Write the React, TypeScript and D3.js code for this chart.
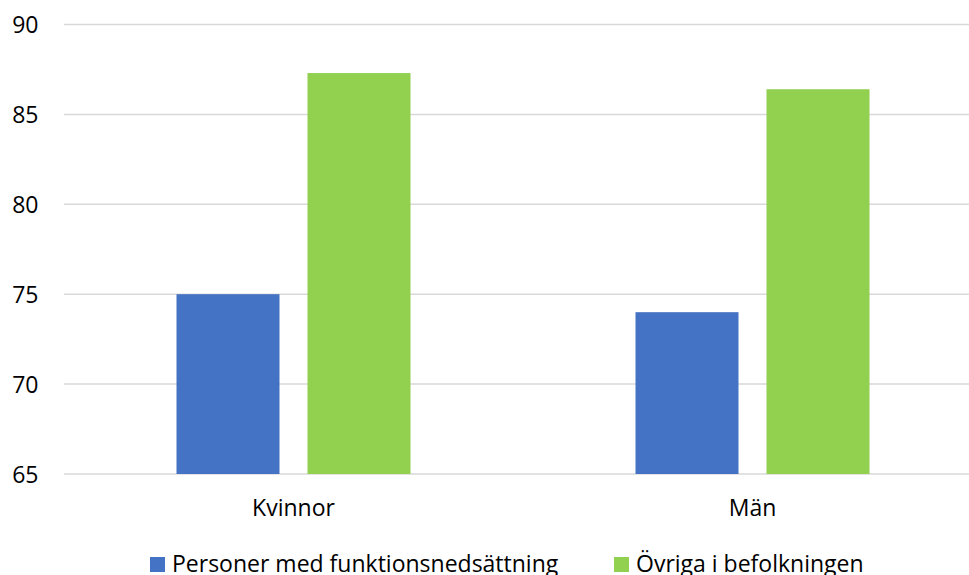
import * as d3 from "d3";

// chart data
const categories = ["Kvinnor", "Män"];
const seriesNames = ["Personer med funktionsnedsättning", "Övriga i befolkningen"];
const personerMed = [75, 74];
const ovriga = [87.3, 86.4];
const yTicks = [65, 70, 75, 80, 85, 90];

const colors = ["#4472C4", "#92D050"];
const font = "'Open Sans', sans-serif";

export default function App() {
  const width = 969;
  const height = 575;
  const plotLeft = 64;
  const plotRight = 982; // original chart is cropped at the right edge
  const plotTop = 24.5;
  const plotBottom = 474;

  const values = [personerMed, ovriga];

  const x0 = d3.scaleBand<string>().domain(categories).range([plotLeft, plotRight]);
  const groupWidth = 234;
  const groupOffset = (x0.bandwidth() - groupWidth) / 2;
  const x1 = d3
    .scaleBand<string>()
    .domain(seriesNames)
    .range([0, groupWidth])
    .paddingInner(28 / 131)
    .paddingOuter(0);

  const y = d3.scaleLinear().domain([65, 90]).range([plotBottom, plotTop]);

  return (
    <svg
      width={width}
      height={height}
      style={{ position: "absolute", left: 0, top: 0, background: "#fff" }}
    >
      {/* gridlines */}
      {yTicks.map((t) => (
        <line
          key={t}
          x1={plotLeft}
          x2={width}
          y1={y(t)}
          y2={y(t)}
          stroke="#d9d9d9"
          strokeWidth={1.5}
        />
      ))}
      {/* y tick labels */}
      {yTicks.map((t) => (
        <text
          key={"l" + t}
          x={38.5}
          y={y(t) + 8.5}
          textAnchor="end"
          fontFamily={font}
          fontSize={23}
          fill="#000"
        >
          {t}
        </text>
      ))}
      {/* bars */}
      {categories.map((c, ci) =>
        seriesNames.map((s, si) => {
          const v = values[si][ci];
          const bx = (x0(c) ?? 0) + groupOffset + (x1(s) ?? 0);
          return (
            <rect
              key={c + s}
              x={bx}
              y={y(v)}
              width={x1.bandwidth()}
              height={plotBottom - y(v)}
              fill={colors[si]}
            />
          );
        })
      )}
      {/* category labels */}
      {categories.map((c) => (
        <text
          key={"c" + c}
          x={(x0(c) ?? 0) + x0.bandwidth() / 2}
          y={516}
          textAnchor="middle"
          fontFamily={font}
          fontSize={23}
          fill="#000"
        >
          {c}
        </text>
      ))}
      {/* legend */}
      {seriesNames.map((s, i) => {
        const lx = i === 0 ? 150 : 614;
        return (
          <g key={"lg" + s}>
            <rect x={lx} y={557} width={15} height={15} fill={colors[i]} />
            <text
              x={lx + 22}
              y={572}
              fontFamily={font}
              fontSize={23}
              fill="#000"
            >
              {s}
            </text>
          </g>
        );
      })}
    </svg>
  );
}
